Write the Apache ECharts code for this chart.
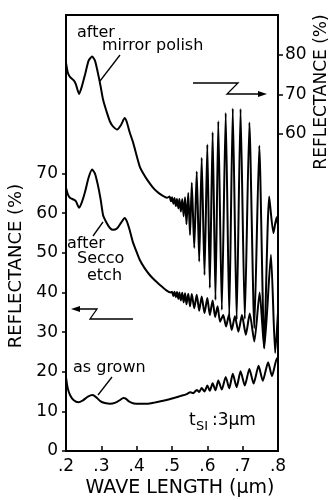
<!DOCTYPE html>
<html><head><meta charset="utf-8">
<script src="https://cdn.jsdelivr.net/npm/echarts@6/dist/echarts.min.js"></script>
<style>html,body{margin:0;padding:0;background:#fff}#c{width:334px;height:500px}</style>
</head><body><div id="c"></div>
<script>
// Tick labels
const xTicks = [0.2, 0.3, 0.4, 0.5, 0.6, 0.7, 0.8];
const leftTicks = [0, 10, 20, 30, 40, 50, 60, 70];
const rightTicks = [60, 70, 80];

// After mirror polish (read on the right axis) : [wavelength um, reflectance %]
const mirrorPolish = [
  [0.200,78],[0.205,75.5],[0.211,74.4],[0.222,73.5],[0.228,72.5],[0.237,70.1],[0.245,72],[0.254,75],
  [0.264,78.5],[0.274,79.5],[0.282,78.5],[0.290,75.5],[0.298,72],[0.305,68.6],[0.316,65.3],[0.325,63],
  [0.333,61.9],[0.345,61.1],[0.356,62.3],[0.366,64],[0.372,63],[0.380,60.5],[0.390,57.8],[0.400,54.5],
  [0.409,51.7],[0.420,49.8],[0.430,48.4],[0.445,46.6],[0.458,45.4],[0.472,44.5],[0.486,43.9],
  [0.493,44.2],[0.497,43],[0.500,44.0],[0.504,42.4],[0.507,43.8],[0.511,41.8],[0.514,43.6],[0.518,41.2],
  [0.521,43.6],[0.525,40.4],[0.529,43.6],[0.533,39.2],[0.537,44],[0.541,37.2],[0.546,45.1],[0.551,34.5],
  [0.556,47.7],[0.563,31.2],[0.570,50.5],[0.577,27.8],[0.584,54],[0.592,24.4],[0.600,57.3],[0.607,21.1],
  [0.615,60.4],[0.623,18.1],[0.631,63.2],[0.641,15.6],[0.652,65.3],[0.662,13.9],[0.672,66.4],[0.683,13.1],
  [0.694,66.3],[0.706,13.3],[0.719,62.9],[0.733,11],[0.747,57],[0.761,6],[0.775,44.2],[0.787,35],
  [0.796,39],[0.800,37]
];

// After Secco etch (left axis)
const seccoEtch = [
  [0.200,66.4],[0.205,64.8],[0.211,63.9],[0.222,63.4],[0.228,63],[0.237,61.4],[0.245,62.8],[0.254,65.4],
  [0.264,69],[0.274,71],[0.282,70],[0.290,67.2],[0.298,63.5],[0.305,59.5],[0.316,57.4],[0.325,56.2],
  [0.333,55.8],[0.345,56.2],[0.356,57.6],[0.366,58.8],[0.372,58],[0.380,55.8],[0.390,52.5],[0.400,50.2],
  [0.409,48.2],[0.422,46.2],[0.437,44.4],[0.452,43],[0.466,41.9],[0.483,40.6],[0.497,40],
  [0.500,40.2],[0.504,39.1],[0.507,40.2],[0.511,38.8],[0.514,40.1],[0.518,38.4],[0.521,40],[0.525,38],
  [0.529,39.9],[0.533,37.5],[0.537,39.8],[0.541,37],[0.546,39.7],[0.551,36.5],[0.556,39.6],[0.563,36],
  [0.570,39.4],[0.577,35.4],[0.584,39],[0.592,34.8],[0.600,38.6],[0.607,34.3],[0.615,38],[0.622,33.8],
  [0.629,36.5],[0.636,32.6],[0.645,34.3],[0.653,31.4],[0.661,34.3],[0.669,30.5],[0.678,34],[0.688,30.1],
  [0.698,34.3],[0.709,29.3],[0.720,34.7],[0.733,27.6],[0.748,40],[0.761,25.9],[0.780,49.5],[0.792,24.7],
  [0.800,35]
];

// As grown (left axis)
const asGrown = [
  [0.200,18.6],[0.205,15.8],[0.212,14],[0.222,12.8],[0.235,12.3],[0.248,12.8],[0.262,13.7],[0.275,14.1],
  [0.285,13.6],[0.297,12.6],[0.310,12.1],[0.325,11.9],[0.340,12.2],[0.352,12.8],[0.362,13.4],[0.368,13.3],
  [0.378,12.5],[0.392,12.0],[0.410,11.9],[0.430,11.9],[0.450,12.2],[0.470,12.6],[0.490,13.0],[0.510,13.5],
  [0.525,13.9],[0.540,14.3],[0.552,14.8],[0.560,14.6],[0.570,15.4],[0.577,14.9],[0.584,15.9],[0.592,15.0],
  [0.600,16.5],[0.607,15.2],[0.615,17.1],[0.623,15.3],[0.631,17.8],[0.641,15.5],[0.652,18.7],[0.662,15.8],
  [0.672,19.5],[0.683,16.1],[0.694,20.1],[0.706,16.5],[0.719,20.7],[0.731,17.0],[0.745,21.5],[0.757,17.7],
  [0.772,22.4],[0.783,18.9],[0.797,23.4],[0.800,23.0]
];

const FONT = 'DejaVu Sans';
const chart = echarts.init(document.getElementById('c'), null, {renderer: 'canvas'});

const lineStyle = {color: '#000', width: 2};
function mkSeries(data, axisIdx) {
  return {type: 'line', data: data, yAxisIndex: axisIdx, symbol: 'none', smooth: 0.2,
          lineStyle: lineStyle, silent: true};
}
function txt(x, y, s, size, extra) {
  return Object.assign({type: 'text', x: x, y: y,
    style: {text: s, fontFamily: FONT, fontSize: size, fill: '#000', align: 'left', verticalAlign: 'middle'}}, extra || {});
}
function seg(x1, y1, x2, y2) {
  return {type: 'line', shape: {x1: x1, y1: y1, x2: x2, y2: y2}, style: {stroke: '#000', lineWidth: 1.3}};
}

const option = {
  animation: false,
  backgroundColor: '#fff',
  grid: {left: 66, right: 56, top: 15, bottom: 49, show: true, borderColor: '#000', borderWidth: 2},
  xAxis: {
    type: 'value', min: 0.2, max: 0.8, interval: 0.1,
    axisLine: {show: true, lineStyle: {color: '#000', width: 2}},
    axisTick: {show: true, inside: true, length: 5, lineStyle: {color: '#000', width: 1.5}},
    axisLabel: {color: '#000', fontFamily: FONT, fontSize: 17, margin: 7,
      customValues: xTicks,
      formatter: v => v.toFixed(1).replace(/^0/, '')},
    splitLine: {show: false}
  },
  yAxis: [{
    type: 'value', position: 'left', min: 0, max: 110, interval: 10,
    axisLine: {show: true, lineStyle: {color: '#000', width: 2}},
    axisTick: {show: true, inside: false, length: 4, customValues: leftTicks, lineStyle: {color: '#000', width: 1.5}},
    axisLabel: {color: '#000', fontFamily: FONT, fontSize: 17, margin: 8, customValues: leftTicks,
      formatter: v => (v <= 70 ? String(v) : '')},
    splitLine: {show: false}
  }, {
    type: 'value', position: 'right', min: -20, max: 90, interval: 10,
    axisLine: {show: true, lineStyle: {color: '#000', width: 2}},
    axisTick: {show: true, inside: false, length: 5, customValues: rightTicks, lineStyle: {color: '#000', width: 1.5}},
    axisLabel: {color: '#000', fontFamily: FONT, fontSize: 17, margin: 7, customValues: rightTicks,
      formatter: v => (v >= 60 && v <= 80 ? String(v) : '')},
    splitLine: {show: false}
  }],
  series: [mkSeries(mirrorPolish, 1), mkSeries(seccoEtch, 0), mkSeries(asGrown, 0)],
  graphic: [
    // axis titles
    {type: 'text', x: 16, y: 266, rotation: Math.PI / 2,
      style: {text: 'REFLECTANCE (%)', fontFamily: FONT, fontSize: 18, fill: '#000', align: 'center', verticalAlign: 'middle'}},
    {type: 'text', x: 322, y: 92, rotation: Math.PI / 2,
      style: {text: 'REFLECTANCE (%)', fontFamily: FONT, fontSize: 17, fill: '#000', align: 'center', verticalAlign: 'middle'}},
    {type: 'text', x: 180, y: 488,
      style: {text: 'WAVE LENGTH (\u03bcm)', fontFamily: FONT, fontSize: 19, fill: '#000', align: 'center', verticalAlign: 'middle'}},
    // annotations
    txt(77, 33, 'after', 16),
    txt(102, 46, 'mirror polish', 16),
    seg(120, 55, 100, 81),
    txt(67, 244, 'after', 16),
    txt(77, 259, 'Secco', 16),
    txt(87, 276, 'etch', 16),
    seg(103, 222, 93, 236),
    txt(73, 368, 'as grown', 16),
    seg(112, 377, 98, 395),
    txt(189, 421, 't', 17),
    txt(196, 427, 'SI', 13),
    txt(212, 421, ':3\u03bcm', 17),
    // arrows
    {type: 'polyline', shape: {points: [[193, 83], [238, 83], [227, 94], [259, 94]]},
      style: {stroke: '#000', lineWidth: 1.3, fill: null}},
    {type: 'polygon', shape: {points: [[267, 94], [258, 91], [258, 97]]}, style: {fill: '#000'}},
    {type: 'polyline', shape: {points: [[79, 309], [97, 309], [90, 319], [133, 319]]},
      style: {stroke: '#000', lineWidth: 1.3, fill: null}},
    {type: 'polygon', shape: {points: [[71, 309], [80, 306], [80, 312]]}, style: {fill: '#000'}}
  ]
};
chart.setOption(option);
</script></body></html>
